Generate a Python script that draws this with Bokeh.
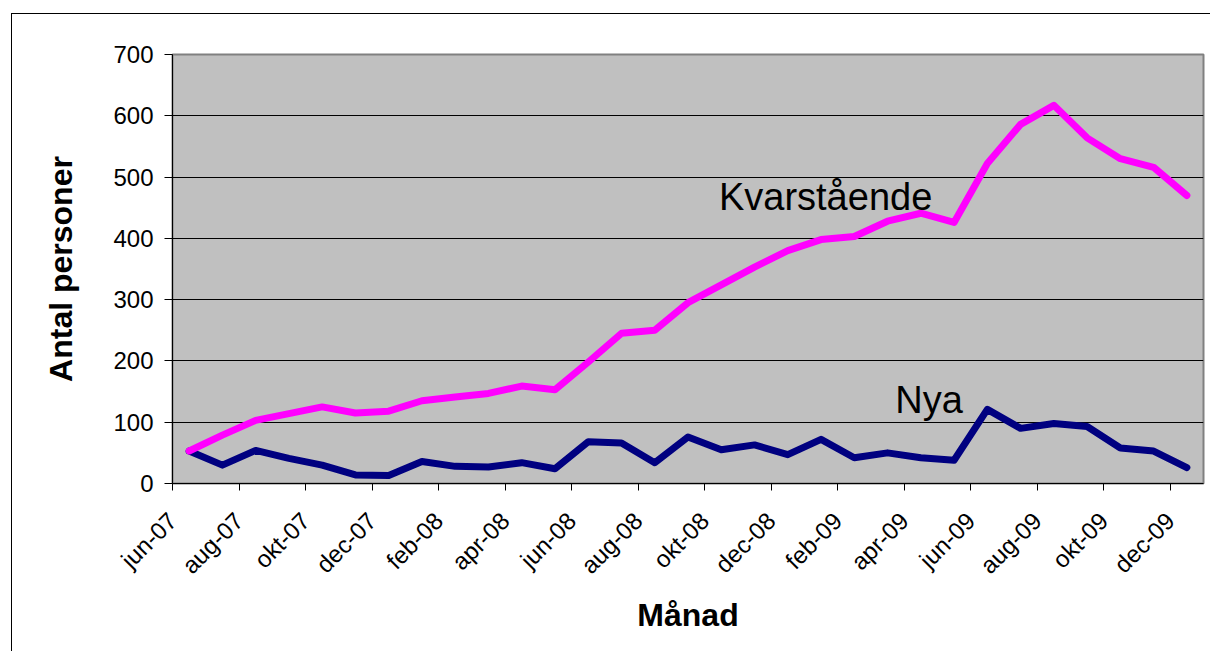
from bokeh.plotting import figure
from bokeh.models import Range1d, FixedTicker, Label
from bokeh.embed import file_html
from bokeh.resources import INLINE

# ---- data ----
months = ["jun-07", "jul-07", "aug-07", "sep-07", "okt-07", "nov-07", "dec-07",
          "jan-08", "feb-08", "mar-08", "apr-08", "maj-08", "jun-08", "jul-08",
          "aug-08", "sep-08", "okt-08", "nov-08", "dec-08", "jan-09", "feb-09",
          "mar-09", "apr-09", "maj-09", "jun-09", "jul-09", "aug-09", "sep-09",
          "okt-09", "nov-09", "dec-09"]
nya = [53, 30, 54, 41, 30, 14, 13, 36, 28, 27, 34, 24, 68, 66, 34, 76, 55, 63,
       47, 72, 42, 50, 42, 38, 121, 90, 98, 93, 58, 53, 26]
kvarstaende = [53, 79, 103, 114, 125, 115, 118, 135, 141, 147, 159, 153, 198,
               245, 250, 295, 324, 353, 380, 398, 403, 428, 441, 426, 522, 586,
               617, 564, 530, 516, 470]
y_ticks = [0, 100, 200, 300, 400, 500, 600, 700]
grid_vals = [100, 200, 300, 400, 500, 600]

FONT = "Liberation Sans"

x_idx = list(range(len(months)))
x_pos = [i + 0.5 for i in x_idx]
tick_idx = x_idx[::2]

W, H = 1199, 638
p = figure(width=W, height=H, output_backend="svg", toolbar_location=None,
           x_range=Range1d(0, len(months)), y_range=Range1d(0, 700),
           min_border_left=160, min_border_top=40, min_border_right=W - 1191,
           min_border_bottom=H - 469)
p.margin = (13, 0, 0, 11)
p.styles = {"border-top": "1px solid black", "border-left": "1px solid black"}

p.background_fill_color = "#C0C0C0"
p.border_fill_color = "white"
p.outline_line_color = "#808080"
p.outline_line_width = 2

# axes
p.xaxis.ticker = FixedTicker(ticks=tick_idx)
p.xaxis.major_label_overrides = {i: months[i] for i in tick_idx}
p.xaxis.major_label_orientation = 0.785398
p.xaxis.minor_tick_line_color = None
p.xaxis.major_tick_in = 0
p.xaxis.major_tick_out = 7
p.xaxis.major_label_standoff = 26
p.xaxis.axis_label = "Månad"
p.xaxis.axis_label_standoff = 6

p.yaxis.ticker = FixedTicker(ticks=y_ticks)
p.yaxis.minor_tick_line_color = None
p.yaxis.major_tick_in = 0
p.yaxis.major_tick_out = 8
p.yaxis.major_label_standoff = 11
p.yaxis.axis_label = "Antal personer"
p.yaxis.axis_label_standoff = 31

for ax in (p.xaxis, p.yaxis):
    ax.axis_line_color = "black"
    ax.axis_line_width = 1
    ax.major_tick_line_color = "black"
    ax.major_label_text_font = FONT
    ax.major_label_text_font_size = "24px"
    ax.major_label_text_color = "black"
    ax.axis_label_text_font = FONT
    ax.axis_label_text_font_size = "32px"
    ax.axis_label_text_font_style = "bold"
    ax.axis_label_text_color = "black"

p.xgrid.grid_line_color = None
p.ygrid.ticker = FixedTicker(ticks=grid_vals)
p.ygrid.grid_line_color = "black"
p.ygrid.grid_line_width = 1

p.line(x_pos, nya, line_color="#000080", line_width=7,
       line_join="round", line_cap="round")
p.line(x_pos, kvarstaende, line_color="#FF00FF", line_width=7,
       line_join="round", line_cap="round")

p.add_layout(Label(x=16.43, y=467, text="Kvarstående", text_font=FONT,
                   text_font_size="38px", text_align="left",
                   text_baseline="alphabetic", text_color="black"))
p.add_layout(Label(x=21.73, y=137, text="Nya", text_font=FONT,
                   text_font_size="38px", text_align="left",
                   text_baseline="alphabetic", text_color="black"))

open("out.html", "w").write(file_html(p, INLINE))
